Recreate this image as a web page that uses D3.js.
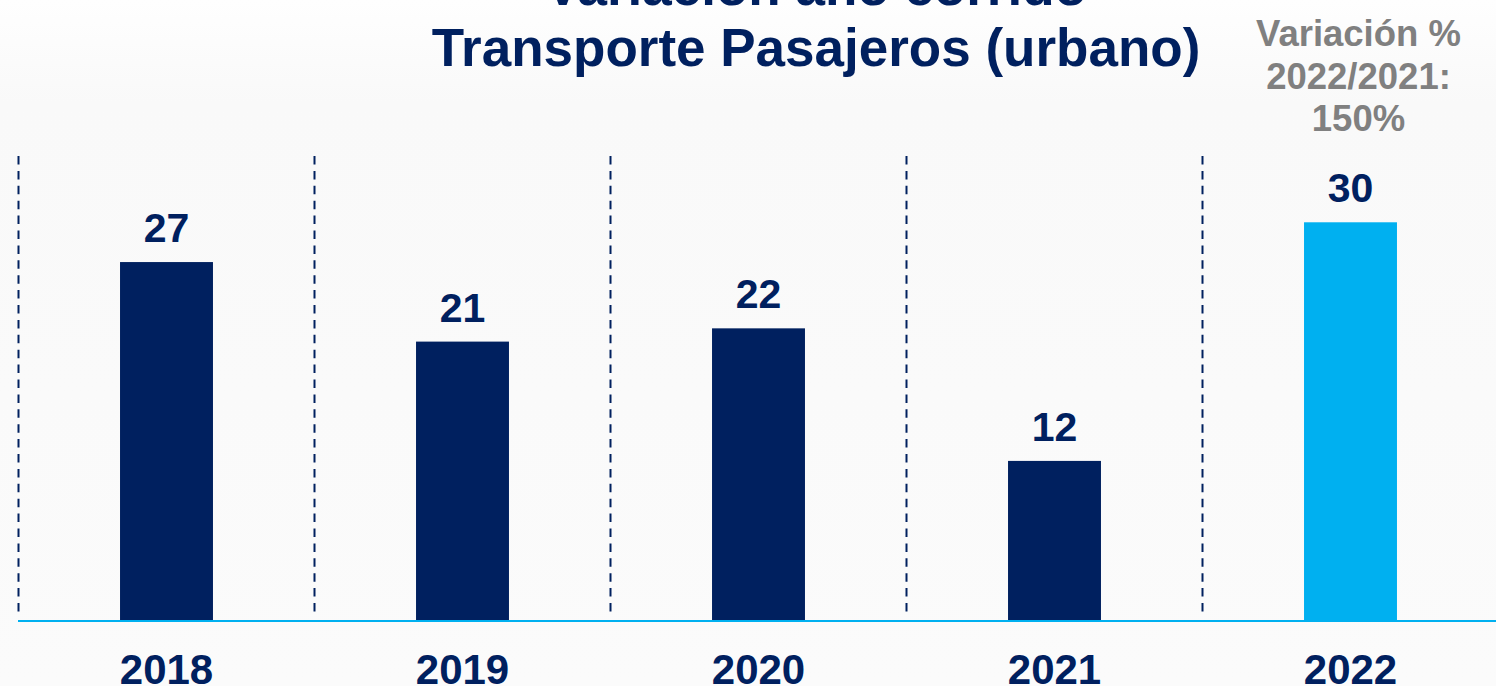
<!DOCTYPE html>
<html>
<head>
<meta charset="utf-8">
<script src="https://cdn.jsdelivr.net/npm/d3@7"></script>
<style>
  html, body { margin: 0; padding: 0; background: #fbfbfb; }
  svg { display: block; }
</style>
</head>
<body>
<svg id="chart" width="1496" height="686"></svg>
<script>
const years = ["2018", "2019", "2020", "2021", "2022"];
const values = [27, 21, 22, 12, 30];
const barColors = ["#00205f", "#00205f", "#00205f", "#00205f", "#00b0f0"];
const titleLines = ["Variación año corrido", "Transporte Pasajeros (urbano)"];
const noteLines = ["Variación %", "2022/2021:", "150%"];
const yDomain = [0, 35];

const W = 1496, H = 686;
const navy = "#00205f";
const font = "'Liberation Sans', Arial, sans-serif";

const svg = d3.select("#chart");

// background
const defs = svg.append("defs");
const grad = defs.append("linearGradient").attr("id", "bg").attr("x1", 0).attr("y1", 0).attr("x2", 0).attr("y2", 1);
grad.append("stop").attr("offset", "0%").attr("stop-color", "#fefefe");
grad.append("stop").attr("offset", "15%").attr("stop-color", "#f9f9f9");
grad.append("stop").attr("offset", "100%").attr("stop-color", "#fbfbfb");
svg.append("rect").attr("width", W).attr("height", H).attr("fill", "url(#bg)");

const x = d3.scaleBand()
  .domain(years)
  .range([18.5, 1498.5])
  .paddingInner(0.686)
  .paddingOuter(0.343);

const y = d3.scaleLinear().domain(yDomain).range([620, 156]);

const data = years.map((yr, i) => ({ year: yr, value: values[i], color: barColors[i] }));

// dashed separators
const sepOffset = x.step() * x.paddingInner() / 2;
svg.append("g").selectAll("line")
  .data(years)
  .join("line")
  .attr("x1", d => x(d) - sepOffset)
  .attr("x2", d => x(d) - sepOffset)
  .attr("y1", y(yDomain[1]))
  .attr("y2", 613)
  .attr("stroke", navy)
  .attr("stroke-width", 2)
  .attr("stroke-dasharray", "8.5,6.4");

// bars
svg.append("g").selectAll("rect")
  .data(data)
  .join("rect")
  .attr("x", d => x(d.year))
  .attr("width", x.bandwidth())
  .attr("y", d => y(d.value))
  .attr("height", d => y(0) - y(d.value))
  .attr("fill", d => d.color);

// category axis
const xAxis = d3.axisBottom(x).tickSize(0).tickPadding(34);
const axisG = svg.append("g")
  .attr("transform", `translate(0,${y(0)})`)
  .call(xAxis);
axisG.select(".domain").remove();
axisG.selectAll("text")
  .attr("font-family", font)
  .attr("font-weight", "bold")
  .attr("font-size", 42)
  .attr("fill", navy)
  .attr("dy", "0.71em");
svg.append("line")
  .attr("x1", 18).attr("x2", W)
  .attr("y1", y(0) + 1).attr("y2", y(0) + 1)
  .attr("stroke", "#00b0f0")
  .attr("stroke-width", 2);

// value labels
svg.append("g").selectAll("text")
  .data(data)
  .join("text")
  .attr("x", d => x(d.year) + x.bandwidth() / 2)
  .attr("y", d => y(d.value) - 20)
  .attr("text-anchor", "middle")
  .attr("font-family", font)
  .attr("font-weight", "bold")
  .attr("font-size", 41)
  .attr("fill", navy)
  .text(d => d.value);

// title
svg.append("g").selectAll("text")
  .data(titleLines)
  .join("text")
  .attr("x", 816)
  .attr("y", (d, i) => 5 + i * 61)
  .attr("text-anchor", "middle")
  .attr("font-family", font)
  .attr("font-weight", "bold")
  .attr("font-size", 53)
  .attr("fill", navy)
  .text(d => d);

// note
svg.append("g").selectAll("text")
  .data(noteLines)
  .join("text")
  .attr("x", 1358.5)
  .attr("y", (d, i) => 46 + i * 42.5)
  .attr("text-anchor", "middle")
  .attr("font-family", font)
  .attr("font-weight", "bold")
  .attr("font-size", 36.5)
  .attr("fill", "#808080")
  .text(d => d);
</script>
</body>
</html>
